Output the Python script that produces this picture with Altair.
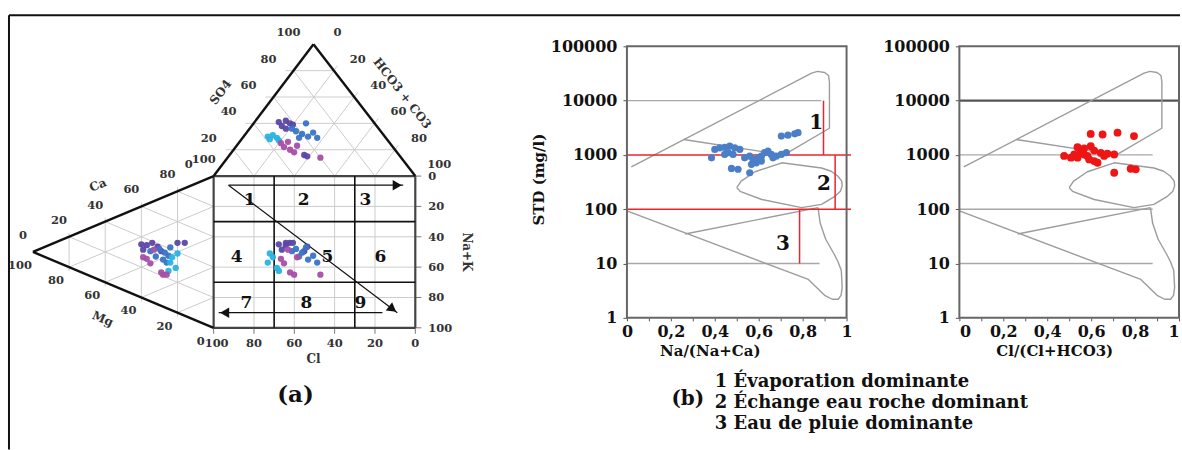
import math
import altair as alt
import pandas as pd

# ============================ DATA ============================
# (a) Durov diagram - sample compositions (% meq)
sample_group = ["G1"] * 8 + ["G2"] * 8 + ["G3"] * 5 + ["G4"] * 7
so4 = [41, 42, 40, 38, 16, 15, 39, 36, 36, 34, 32, 30, 33, 40, 29, 29, 30, 31, 29, 27, 28, 25, 22, 20, 18, 26, 14, 23]
hco3 = [12, 15, 18, 15, 37, 39, 20, 18, 21, 24, 28, 32, 33, 26, 28, 37, 12, 14, 17, 19, 14, 21, 24, 28, 31, 24, 46, 30]
ca = [35, 36, 39, 32, 36, 38, 46, 48, 33, 37, 36, 31, 35, 41, 31, 30, 31, 35, 29, 25, 39, 27, 25, 22, 22, 35, 21, 27]
mg = [40, 37, 34, 39, 29, 31, 20, 16, 35, 30, 27, 28, 25, 24, 32, 26, 24, 23, 21, 25, 20, 37, 35, 29, 26, 33, 28, 39]
group_names = ["G1", "G2", "G3", "G4"]
group_colors = ["#5a47a6", "#3a74c6", "#2bb2e0", "#a64ea8"]
durov_ticks = [0, 20, 40, 60, 80, 100]
field_cuts = [0.3, 0.7]
field_numbers = ["1", "2", "3", "4", "5", "6", "7", "8", "9"]
field_fx = [0.178, 0.446, 0.752, 0.114, 0.564, 0.827, 0.163, 0.46, 0.728]
field_fy = [0.158, 0.158, 0.158, 0.533, 0.533, 0.533, 0.836, 0.836, 0.836]

# (b) Gibbs diagrams
na_ratio = [0.385, 0.40, 0.423, 0.445, 0.468, 0.491, 0.514, 0.461, 0.483, 0.445, 0.559, 0.574, 0.597, 0.612,
            0.627, 0.642, 0.657, 0.68, 0.703, 0.726, 0.589, 0.567, 0.612, 0.476, 0.506, 0.559, 0.703, 0.733,
            0.764, 0.779, 0.536, 0.665]
tds_na = [885, 1260, 1350, 1380, 1450, 1350, 1260, 1100, 1020, 1020, 950, 830, 885, 950, 1100, 1170, 1020, 950,
          1020, 1100, 716, 670, 770, 565, 545, 470, 2220, 2310, 2450, 2570, 885, 885]
cl_ratio = [0.598, 0.652, 0.72, 0.795, 0.538, 0.568, 0.598, 0.614, 0.553, 0.523, 0.477, 0.508, 0.583, 0.644,
            0.674, 0.705, 0.614, 0.629, 0.591, 0.705, 0.78, 0.803, 0.568, 0.538, 0.659]
tds_cl = [2440, 2380, 2570, 2220, 1390, 1320, 1450, 1200, 1140, 1020, 960, 890, 960, 1090, 1050, 1020, 770, 716,
          826, 470, 556, 543, 1020, 890, 960]
gibbs_x_ticks = [0, 0.1, 0.2, 0.3, 0.4, 0.5, 0.6, 0.7, 0.8, 0.9, 1.0]
gibbs_y_ticks = [1, 10, 100, 1000, 10000, 100000]
upper_x = [0.02, 0.841, 0.868, 0.9, 0.918, 0.922, 0.922, 0.715, 0.258]
upper_y = [600, 32000, 34500, 33000, 29000, 22000, 3100, 1000, 1920]
loop_x = [0.5, 0.52, 0.583, 0.705, 0.886, 0.93, 0.96, 0.978, 0.98, 0.972, 0.945, 0.886, 0.795, 0.614, 0.515, 0.5]
loop_y = [250, 330, 490, 716, 575, 500, 410, 330, 269, 215, 170, 123, 107, 151, 214, 250]
lower_x = [0.0, 0.826, 0.9, 0.935, 0.962, 0.975, 0.98, 0.976, 0.96, 0.945, 0.905, 0.88, 0.87]
lower_y = [93, 5.1, 2.6, 2.2, 2.2, 2.6, 3.6, 7.5, 11, 14.5, 28, 55, 107]
inner_x = [0.265, 0.87]
inner_y = [35, 107]
zone_limits = [1000, 100]
zone_x = [0.895, 0.948, 0.786]
zone_top = [10000, 1000, 100]
zone_bottom = [1000, 100, 10]
zone_label_x = [0.862, 0.897, 0.71]
zone_label_y = [3890, 287, 22.6]
zone_names = ["1 Évaporation dominante", "2 Échange eau roche dominant", "3 Eau de pluie dominante"]

# ============================ GEOMETRY (a) ============================
FONT = "DejaVu Serif"
W_A, H = 514, 450
A_APEX = (313.0, 43.0)
A_HCO3 = (415.0, 175.0)
A_CL = (213.0, 175.0)
C_MG = (32.0, 251.0)
C_CA = (213.0, 175.0)
C_NAK = (213.0, 327.0)
SQ = (213.0, 175.0, 415.0, 327.0)


def anion_xy(s, h, c):
    return ((s * A_APEX[0] + h * A_HCO3[0] + c * A_CL[0]) / 100.0,
            (s * A_APEX[1] + h * A_HCO3[1] + c * A_CL[1]) / 100.0)


def cation_xy(a, m, n):
    return ((a * C_CA[0] + m * C_MG[0] + n * C_NAK[0]) / 100.0,
            (a * C_CA[1] + m * C_MG[1] + n * C_NAK[1]) / 100.0)


def sq_xy(fx, fy):
    return (SQ[0] + (SQ[2] - SQ[0]) * fx, SQ[1] + (SQ[3] - SQ[1]) * fy)


def lerp(p, q, f):
    return (p[0] + (q[0] - p[0]) * f, p[1] + (q[1] - p[1]) * f)


def ext(p, q, d):
    L = math.hypot(q[0] - p[0], q[1] - p[1])
    return (q[0] + (q[0] - p[0]) / L * d, q[1] + (q[1] - p[1]) / L * d)


PX = alt.Scale(domain=[0, W_A], range=[0, W_A], nice=False, zero=False)
PY = alt.Scale(domain=[0, H], range=[0, H], nice=False, zero=False)


def pxy():
    return dict(x=alt.X("x:Q", scale=PX, axis=None), y=alt.Y("y:Q", scale=PY, axis=None))


def rules(rows, color, width):
    df = pd.DataFrame(rows, columns=["x", "y", "x2", "y2"])
    return alt.Chart(df).mark_rule(color=color, strokeWidth=width).encode(
        **pxy(), x2=alt.X2("x2"), y2=alt.Y2("y2"))


def texts(rows, size, color="#111", align="center", weight="bold"):
    df = pd.DataFrame(rows, columns=["x", "y", "t", "a"])
    return alt.Chart(df).mark_text(font=FONT, fontSize=size, fontWeight=weight, color=color,
                                   align=align, baseline="middle").encode(
        **pxy(), text="t:N", angle=alt.Angle("a:Q", scale=None))


grid = []
for k in durov_ticks[1:-1]:
    p, q = anion_xy(k, 0, 100 - k), anion_xy(k, 100 - k, 0)
    grid.append((*ext(q, p, 8), *q))
    p, q = anion_xy(0, k, 100 - k), anion_xy(100 - k, k, 0)
    grid.append((*p, *ext(p, q, 6)))
    p, q = anion_xy(0, 100 - k, k), anion_xy(100 - k, 0, k)
    grid.append((*p, *q))
    p, q = cation_xy(100 - k, k, 0), cation_xy(0, k, 100 - k)
    grid.append((*ext(q, p, 4), *ext(p, q, 4)))
    p, q = cation_xy(k, 100 - k, 0), cation_xy(k, 0, 100 - k)
    grid.append((*p, *q))
    p, q = cation_xy(0, 100 - k, k), cation_xy(100 - k, 0, k)
    grid.append((*p, *q))
    a, b = sq_xy(k / 100, 0), sq_xy(k / 100, 1)
    grid.append((*a, *b))
    a, b = sq_xy(0, k / 100), sq_xy(1, k / 100)
    grid.append((*a, *b))

ticks = []
for k in durov_ticks:
    a = sq_xy(k / 100, 1)
    ticks.append((a[0], a[1], a[0], a[1] + 6))
    a = sq_xy(1, k / 100)
    ticks.append((a[0], a[1], a[0] + 6, a[1]))

edges = [(*A_APEX, *A_CL), (*A_APEX, *A_HCO3), (*C_MG, *C_CA), (*C_MG, *C_NAK)]
square = [(SQ[0], SQ[1], SQ[2], SQ[1]), (SQ[0], SQ[3], SQ[2], SQ[3]),
          (SQ[0], SQ[1], SQ[0], SQ[3]), (SQ[2], SQ[1], SQ[2], SQ[3])]
fields = []
for c in field_cuts:
    fields.append((*sq_xy(c, 0), *sq_xy(c, 1)))
    fields.append((*sq_xy(0, c), *sq_xy(1, c)))

arrow_defs = [((0.074, 0.06), (0.94, 0.06)), ((0.837, 0.90), (0.025, 0.90)), ((0.074, 0.06), (0.911, 0.90))]
arrow_lines, heads = [], []
for (f0, f1) in arrow_defs:
    p, q = sq_xy(*f0), sq_xy(*f1)
    arrow_lines.append((*p, *q))
    L = math.hypot(q[0] - p[0], q[1] - p[1])
    ux, uy = (q[0] - p[0]) / L, (q[1] - p[1]) / L
    ang = math.degrees(math.atan2(uy, ux)) % 360
    heads.append((q[0] - 6 * ux, q[1] - 6 * uy, ang))
heads_df = pd.DataFrame(heads, columns=["x", "y", "a"])

frame = [(8, 14, 8, 449), (8, 14, 1181, 14)]

small = []
for v in durov_ticks:
    f = v / 100
    p = lerp(A_CL, A_APEX, f)
    small.append((p[0] - 25, p[1] - 11, str(v), 0))
    p = lerp(A_APEX, A_HCO3, f)
    small.append((p[0] + 24, p[1] - 11, str(v), 0))
    p = lerp(C_MG, C_CA, f)
    small.append((p[0] - 10, p[1] - 16, str(v), 0))
    p = lerp(C_MG, C_NAK, f)
    small.append((p[0] - 13, p[1] + 14, str(100 - v), 0))
    p = sq_xy(f, 1)
    small.append((p[0] + (3 if v == 0 else 0), p[1] + 16, str(100 - v), 0))
right_lab = []
for v in durov_ticks:
    p = sq_xy(1, v / 100)
    right_lab.append((p[0] + 13, p[1] + 1, str(v), 0))

titles_a = [(220, 91, "SO4", 307), (402, 92, "HCO3 + CO3", 52), (97, 184, "Ca", 337),
            (102, 318, "Mg", 23), (467, 251, "Na+K", 90), (313, 358, "Cl", 0)]
nums = [(*sq_xy(fx, fy), t, 0) for t, fx, fy in zip(field_numbers, field_fx, field_fy)]

rows = []
for g, s, h, a, m in zip(sample_group, so4, hco3, ca, mg):
    ax, ay = anion_xy(s, h, 100 - s - h)
    cx, cy = cation_xy(a, m, 100 - a - m)
    rows += [(ax, ay, g), (cx, cy, g), (ax, cy, g)]
pts = pd.DataFrame(rows, columns=["x", "y", "g"])

points_a = alt.Chart(pts).mark_circle(size=40, opacity=0.95).encode(
    **pxy(), color=alt.Color("g:N", scale=alt.Scale(domain=group_names, range=group_colors), legend=None))

heads_a = alt.Chart(heads_df).mark_point(shape="triangle-right", filled=True, color="#111", size=110,
                                          opacity=1).encode(**pxy(), angle=alt.Angle("a:Q", scale=None))

legend_b = [(715, 381, zone_names[0], 0), (715, 402, zone_names[1], 0), (715, 423, zone_names[2], 0)]

piper = alt.layer(
    rules(grid, "#cccccc", 1),
    rules(ticks, "#777", 1),
    rules(square, "#444", 2.2),
    rules(fields, "#111", 1.6),
    rules(edges, "#111", 2.4),
    rules(arrow_lines, "#111", 1.2),
    heads_a,
    points_a,
    texts(small, 11.5, color="#333"),
    texts(right_lab, 11.5, color="#333", align="left"),
    texts(titles_a, 12, color="#333"),
    texts(nums, 17),
    texts([(295, 394, "(a)", 0)], 23),
    texts([(688, 398, "(b)", 0)], 20),
    texts(legend_b, 18, align="left"),
    rules(frame, "#111", 2),
).properties(width=W_A, height=H)

# ============================ GIBBS (b) ============================
GX = alt.Scale(domain=[0, 1], nice=False, zero=False)
GY = alt.Scale(type="log", domain=[1, 100000], range=[317, 45], nice=False)
XLAB = "round(datum.value*10) % 2 == 0 ? replace(format(datum.value, '~g'), '.', ',') : ''"


def path_df(xs, ys, seg):
    return pd.DataFrame({"x": xs, "y": ys, "seg": seg, "i": list(range(len(xs)))})


def gibbs(px, py, color, size, xtitle, ytitle, title_x, flush, light, dark, zones):
    xax = alt.Axis(values=gibbs_x_ticks, labelExpr=XLAB, title=xtitle, titleX=title_x, titleY=33,
                   titleAlign="center", titleBaseline="middle", labelFlush=flush, tickSize=3, labelPadding=3)
    if ytitle:
        yax = alt.Axis(values=gibbs_y_ticks, format="d", tickSize=4, labelPadding=6, title=ytitle,
                       titleX=-89, titleY=178, titleAngle=270, titleAlign="center", titleBaseline="middle")
    else:
        yax = alt.Axis(values=gibbs_y_ticks, format="d", tickSize=4, labelPadding=6, title=None)

    def enc():
        return dict(x=alt.X("x:Q", scale=GX, axis=xax), y=alt.Y("y:Q", scale=GY, axis=yax))

    layers = []
    lt = pd.DataFrame(light, columns=["x", "x2", "y"])
    layers.append(alt.Chart(lt).mark_rule(color="#a8a8a8", strokeWidth=1.4).encode(**enc(), x2=alt.X2("x2")))
    if dark:
        dk = pd.DataFrame(dark, columns=["x", "x2", "y"])
        layers.append(alt.Chart(dk).mark_rule(color="#555", strokeWidth=2.2).encode(**enc(), x2=alt.X2("x2")))
    outl = pd.concat([path_df(upper_x, upper_y, "u"), path_df(loop_x, loop_y, "m"),
                      path_df(lower_x, lower_y, "l"), path_df(inner_x, inner_y, "n")])
    layers.append(alt.Chart(outl).mark_line(color="#9c9c9c", strokeWidth=1.4, strokeJoin="round").encode(
        **enc(), detail="seg:N", order="i:Q"))
    if zones:
        hz = pd.DataFrame({"x": [0.0] * len(zone_limits), "x2": [1.02] * len(zone_limits), "y": zone_limits})
        layers.append(alt.Chart(hz).mark_rule(color="#e8262c", strokeWidth=1.5).encode(**enc(), x2=alt.X2("x2")))
        vz = pd.DataFrame({"x": zone_x, "y": zone_top, "y2": zone_bottom})
        layers.append(alt.Chart(vz).mark_rule(color="#e8262c", strokeWidth=1.5).encode(**enc(), y2=alt.Y2("y2")))
    pdf = pd.DataFrame({"x": px, "y": py})
    layers.append(alt.Chart(pdf).mark_circle(size=size, color=color, opacity=1).encode(**enc()))
    if zones:
        zl = pd.DataFrame({"x": zone_label_x, "y": zone_label_y, "t": ["1", "2", "3"]})
        layers.append(alt.Chart(zl).mark_text(font=FONT, fontSize=20, fontWeight="bold", color="#111",
                                              baseline="middle").encode(**enc(), text="t:N"))
    fr = pd.DataFrame({"x": [0.0], "x2": [1.0], "y": [1], "y2": [100000]})
    layers.append(alt.Chart(fr).mark_rect(filled=False, color="#666", strokeWidth=2).encode(
        **enc(), x2=alt.X2("x2"), y2=alt.Y2("y2")))
    return alt.layer(*layers).properties(width=220, height=317)


g1 = gibbs(na_ratio, tds_na, "#4a7fc8", 52, "Na/(Na+Ca)", "STD (mg/l)", 83, False,
           [(0, 0.885, 10000), (0, 0.877, 10)], None, True)
g2 = gibbs(cl_ratio, tds_cl, "#ee1515", 62, "Cl/(Cl+HCO3)", None, 95, True,
           [(0, 0.88, 1000), (0, 0.88, 100), (0, 0.88, 10)], [(0, 1.0, 10000)], False)

chart = alt.hconcat(piper, g1, g2, spacing=113, bounds="flush").properties(
    padding=0, background="white"
).configure_view(stroke="transparent").configure_axis(
    labelFont=FONT, labelFontWeight="bold", labelFontSize=16, labelColor="#111",
    titleFont=FONT, titleFontWeight="bold", titleFontSize=15, titleColor="#111",
    grid=False, domain=False, tickColor="#555"
)

chart.save("out.html", embed_options={"renderer": "svg", "actions": False})
